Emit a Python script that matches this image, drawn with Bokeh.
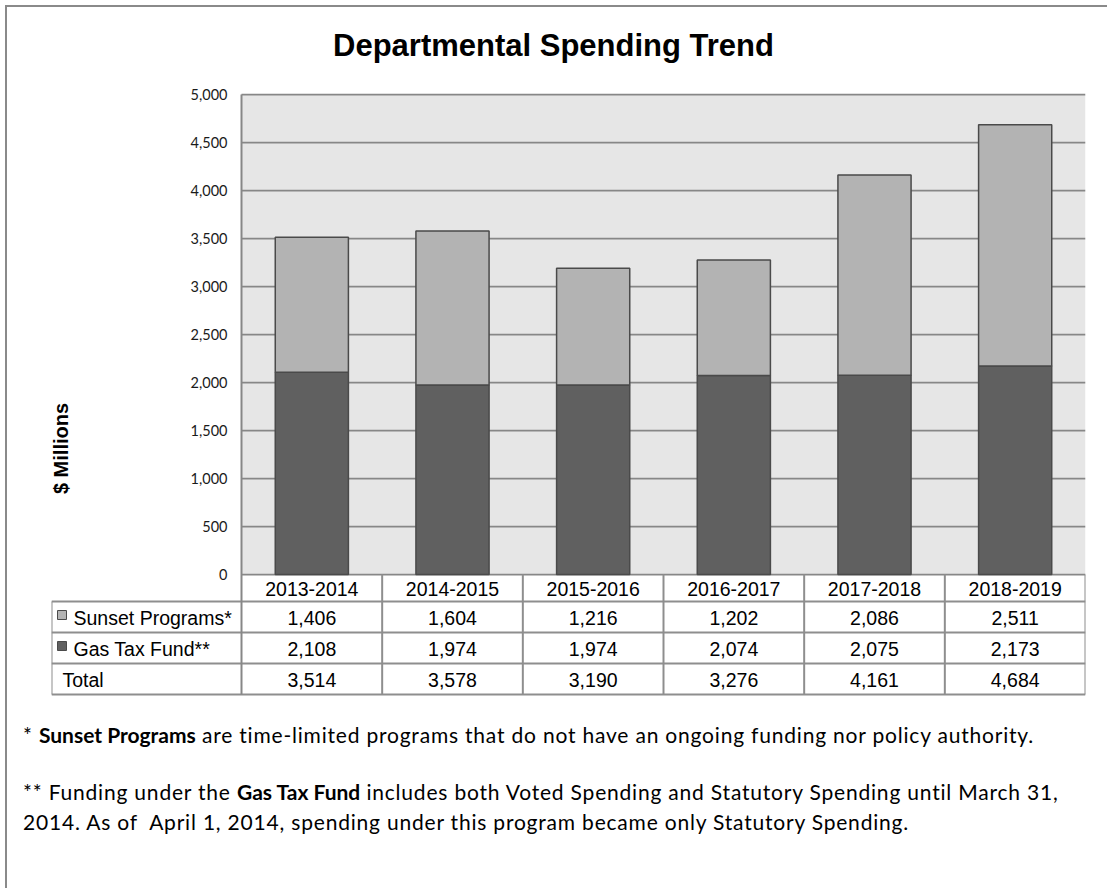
import math
from bokeh.plotting import figure
from bokeh.models import ColumnDataSource, Range1d, FixedTicker, NumeralTickFormatter, Label, Div
from bokeh.layouts import column, row
from bokeh.core.properties import value
from bokeh.embed import file_html
from bokeh.resources import INLINE

# ---------------- data ----------------
years = ["2013-2014", "2014-2015", "2015-2016", "2016-2017", "2017-2018", "2018-2019"]
sunset = [1406, 1604, 1216, 1202, 2086, 2511]
gas_tax = [2108, 1974, 1974, 2074, 2075, 2173]
totals = [3514, 3578, 3190, 3276, 4161, 4684]
row_labels = ["Sunset Programs*", "Gas Tax Fund**", "Total"]
y_ticks = [0, 500, 1000, 1500, 2000, 2500, 3000, 3500, 4000, 4500, 5000]
title_text = "Departmental Spending Trend"
y_label_text = "$ Millions"
note1_html = "* <b>Sunset Programs</b> are time-limited programs that do not have an ongoing funding nor policy authority."
note2_html = ("** Funding under the <b>Gas Tax Fund</b> includes both Voted Spending and Statutory Spending until March 31,"
              "<br>2014. As of&nbsp; April 1, 2014, spending under this program became only Statutory Spending.")

# ---------------- style / layout ----------------
LIGHT = "#b3b3b3"
DARK = "#606060"
EDGE = "#4a4a4a"
GRID = "#878787"
TABLE_LINE = "#8e8e8e"
PLOT_BG = "#e6e6e6"
BORDER = "#8a8a8a"
FONT = "Liberation Sans"

n = len(years)
# page-pixel layout of the plot area
PLOT_LEFT, PLOT_RIGHT = 241.0, 1085.0
ZERO_Y, TOP_Y = 574.0, 94.0
BAND = (PLOT_RIGHT - PLOT_LEFT) / n
PPU = (ZERO_Y - TOP_Y) / y_ticks[-1]


def xd(px):
    return (px - PLOT_LEFT) / BAND


def yd(py):
    return (ZERO_Y - py) / PPU


FRAME_LEFT, FRAME_RIGHT, FRAME_TOP, FRAME_BOTTOM = 51.0, 1085.0, 7.0, 696.0
OFFSET = 7
CONTENT_W = 1100

p = figure(width=CONTENT_W, height=int(FRAME_BOTTOM - FRAME_TOP),
           x_range=Range1d(xd(FRAME_LEFT), xd(FRAME_RIGHT)),
           y_range=Range1d(yd(FRAME_BOTTOM), yd(FRAME_TOP)),
           x_axis_location=None, y_axis_location="left",
           output_backend="svg", toolbar_location=None,
           min_border_left=int(FRAME_LEFT - OFFSET),
           min_border_right=int(CONTENT_W + OFFSET - FRAME_RIGHT),
           min_border_top=0, min_border_bottom=0,
           background_fill_color="white", border_fill_color="white",
           outline_line_color=None, margin=0)
p.xgrid.visible = False
p.ygrid.visible = False

yax = p.yaxis[0]
yax.ticker = FixedTicker(ticks=y_ticks)
yax.formatter = NumeralTickFormatter(format="0,0")
yax.axis_line_color = None
yax.major_tick_line_color = None
yax.minor_tick_line_color = None
yax.major_tick_out = 0
yax.major_tick_in = 0
yax.major_label_standoff = -int(227 - FRAME_LEFT)
yax.major_label_text_font = "Lato"
yax.major_label_text_font_size = "14.5px"
yax.major_label_text_color = "#1a1a1a"

# plot background
p.quad(left=[0], right=[n], bottom=[y_ticks[0]], top=[y_ticks[-1]],
       fill_color=PLOT_BG, line_color=None)
# gridlines
p.segment(x0=[0] * len(y_ticks), x1=[n] * len(y_ticks), y0=y_ticks, y1=y_ticks,
          line_color=GRID, line_width=1.75)

# table geometry
row_edges = [574.0, 601.0, 632.0, 663.0, 694.0]
hx0, hx1, hy = [], [], []
for e in row_edges[1:]:
    hx0.append(xd(FRAME_LEFT))
    hx1.append(n)
    hy.append(yd(e))
p.segment(x0=hx0, x1=hx1, y0=hy, y1=hy, line_color=TABLE_LINE, line_width=2)
vx, vy0, vy1 = [], [], []
for k in range(1, n + 1):
    vx.append(k)
    vy0.append(yd(row_edges[0]))
    vy1.append(yd(row_edges[-1]))
vx.append(xd(FRAME_LEFT))
vy0.append(yd(row_edges[1]))
vy1.append(yd(row_edges[-1]))
p.segment(x0=vx, x1=vx, y0=vy0, y1=vy1, line_color=TABLE_LINE, line_width=2)
# left axis line (plot + table)
p.segment(x0=[0], x1=[0], y0=[y_ticks[-1]], y1=[yd(row_edges[-1])], line_color=GRID, line_width=2)

# stacked bars
src = ColumnDataSource(dict(x=[i + 0.5 for i in range(n)], gas=gas_tax, sunset=sunset))
p.vbar_stack(["gas", "sunset"], x="x", width=0.52, source=src,
             fill_color=[DARK, LIGHT], line_color=EDGE, line_width=1.5)

# table text
centers = [i + 0.5 for i in range(n)]
row_mid = [(row_edges[j] + row_edges[j + 1]) / 2 for j in range(len(row_edges) - 1)]
p.text(x=centers, y=[yd(row_mid[0] + 0.5)] * n, text=years,
       text_font=value(FONT), text_font_size="19.5px", text_align="center",
       text_baseline="middle", text_color="#000000")
for rv, vals in zip(row_mid[1:], [sunset, gas_tax, totals]):
    p.text(x=centers, y=[yd(rv + 0.5)] * n, text=[f"{v:,}" for v in vals],
           text_font=value(FONT), text_font_size="19.5px", text_align="center",
           text_baseline="middle", text_color="#000000")

# row labels with legend swatches
p.scatter(x=[xd(61.5)] * 2, y=[yd(row_mid[1] - 2), yd(row_mid[2] - 2)], marker="square", size=9,
          fill_color=[LIGHT, DARK], line_color=EDGE, line_width=1)
p.text(x=[xd(73), xd(73), xd(62)], y=[yd(r + 0.5) for r in row_mid[1:]], text=row_labels,
       text_font=value(FONT), text_font_size="19.5px", text_align="left",
       text_baseline="middle", text_color="#000000")

# title and y label
p.add_layout(Label(x=xd(553), y=yd(45), text=title_text, text_font=FONT, text_font_style="bold",
                   text_font_size="31px", text_align="center", text_baseline="middle",
                   text_color="#000000"))
p.add_layout(Label(x=xd(60), y=yd(448), text=y_label_text, angle=math.pi / 2, text_font=FONT,
                   text_font_style="bold", text_font_size="20px", text_align="center",
                   text_baseline="middle", text_color="#000000"))

NOTES_H = 888 - int(FRAME_BOTTOM)
notes = Div(width=CONTENT_W, height=NOTES_H, margin=0, styles={"overflow": "hidden"},
            text=("<div style=\"font-family:Lato; font-size:21px; letter-spacing:0.8px; color:#000; "
                  "line-height:30px; padding-left:16px; white-space:nowrap;\">"
                  "<style>b{letter-spacing:0;}</style>"
                  f"<div style=\"margin-top:24px\">{note1_html}</div>"
                  f"<div style=\"margin-top:27px\">{note2_html}</div></div>"))

top_strip = Div(text="", width=CONTENT_W + 2, height=2, margin=0, styles={"background-color": BORDER})
left_strip = Div(text="", width=2, height=int(FRAME_BOTTOM - FRAME_TOP) + NOTES_H, margin=0,
                 styles={"background-color": BORDER})
inner = column(p, notes, spacing=0, margin=0)
root = column(top_strip, row(left_strip, inner, spacing=0, margin=0),
              spacing=0, margin=(5, 0, 0, 5))

open("out.html", "w").write(file_html(root, INLINE))
